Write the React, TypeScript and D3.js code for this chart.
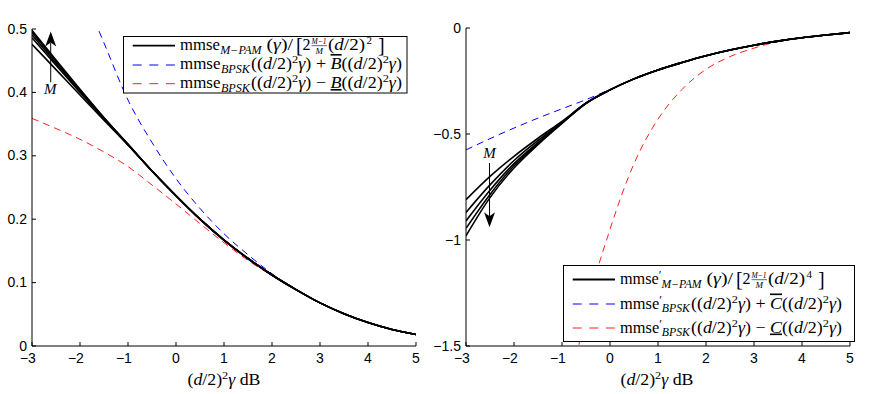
import React from 'react';
import * as d3 from 'd3';

// ---------- data ----------
const xGrid = [-3, -2.5, -2, -1.5, -1, -0.5, 0, 0.5, 1, 1.5, 2, 2.5, 3, 3.5, 4, 4.5, 5];

// left panel: normalized M-PAM mmse for several M (bundle)
const mmseM4 = [0.476, 0.436, 0.396, 0.356, 0.317, 0.276, 0.237, 0.200, 0.167, 0.138, 0.112, 0.089, 0.068, 0.051, 0.037, 0.026, 0.018];
const mmseM8 = [0.486, 0.443, 0.400, 0.358, 0.317, 0.276, 0.237, 0.200, 0.167, 0.138, 0.112, 0.089, 0.068, 0.051, 0.037, 0.026, 0.018];
const mmseM16 = [0.491, 0.446, 0.402, 0.359, 0.318, 0.276, 0.237, 0.200, 0.167, 0.138, 0.112, 0.089, 0.068, 0.051, 0.037, 0.026, 0.018];
const mmseM32 = [0.495, 0.449, 0.404, 0.360, 0.318, 0.276, 0.237, 0.200, 0.167, 0.138, 0.112, 0.089, 0.068, 0.051, 0.037, 0.026, 0.018];
const mmseM64 = [0.498, 0.451, 0.405, 0.360, 0.318, 0.276, 0.237, 0.200, 0.167, 0.138, 0.112, 0.089, 0.068, 0.051, 0.037, 0.026, 0.018];

const upperLX = [-1.7, -1.5, -1, -0.5, 0, 0.5, 1, 1.5, 2, 2.4];
const upperLV = [0.514, 0.478, 0.388, 0.321, 0.264, 0.217, 0.177, 0.144, 0.114, 0.093];
const lowerLX = [-3, -2.5, -2, -1.5, -1, -0.5, 0, 0.5, 1, 1.5, 2, 2.2];
const lowerLV = [0.359, 0.343, 0.326, 0.306, 0.283, 0.254, 0.224, 0.193, 0.163, 0.135, 0.111, 0.102];

// right panel: normalized derivative
const dM4 = [-0.81, -0.70, -0.605, -0.52, -0.44, -0.355, -0.292, -0.240, -0.198, -0.163, -0.131, -0.104, -0.081, -0.062, -0.046, -0.033, -0.022];
const dM8 = [-0.87, -0.74, -0.625, -0.53, -0.445, -0.355, -0.292, -0.240, -0.198, -0.163, -0.131, -0.104, -0.081, -0.062, -0.046, -0.033, -0.022];
const dM16 = [-0.91, -0.765, -0.64, -0.54, -0.447, -0.355, -0.292, -0.240, -0.198, -0.163, -0.131, -0.104, -0.081, -0.062, -0.046, -0.033, -0.022];
const dM32 = [-0.945, -0.785, -0.65, -0.545, -0.449, -0.355, -0.292, -0.240, -0.198, -0.163, -0.131, -0.104, -0.081, -0.062, -0.046, -0.033, -0.022];
const dM64 = [-0.98, -0.80, -0.66, -0.55, -0.45, -0.355, -0.292, -0.240, -0.198, -0.163, -0.131, -0.104, -0.081, -0.062, -0.046, -0.033, -0.022];

const upperRX = [-3, -2.5, -2, -1.5, -1, -0.5, 0, 0.3];
const upperRV = [-0.575, -0.522, -0.472, -0.425, -0.381, -0.338, -0.29, -0.262];
const lowerRX = [-0.7, -0.5, 0, 0.5, 1, 1.5, 2, 2.5, 3, 3.5, 4];
const lowerRV = [-1.55, -1.34, -0.95, -0.64, -0.43, -0.29, -0.195, -0.135, -0.095, -0.064, -0.046];

const xTicks = [-3, -2, -1, 0, 1, 2, 3, 4, 5];
const yTicksL = [0, 0.1, 0.2, 0.3, 0.4, 0.5];
const yTicksR = [-1.5, -1, -0.5, 0];

const arrowL = { x: -2.61, from: 0.416, to: 0.496, label: 0.398 };
const arrowR = { x: -2.51, from: -0.637, to: -0.94, label: -0.613 };

// ---------- styles ----------
const serif = "'Liberation Serif','Times New Roman',serif";
const sans = "'Liberation Sans',Arial,Helvetica,sans-serif";
const BLUE = '#0000ff';
const RED = '#ff2020';
const fmt = (v: number) => {
  const s = String(Math.abs(v));
  return v < 0 ? '\u2212' + s : s;
};

function Arrow({ x, y1, y2 }: { x: number; y1: number; y2: number }) {
  const s = y2 < y1 ? 1 : -1; // 1: tip upward
  const hl = 15, hw = 5.5, notch = 11;
  const d = `M${x},${y2} L${x - hw},${y2 + s * hl} L${x},${y2 + s * notch} L${x + hw},${y2 + s * hl} Z`;
  return (
    <g>
      <line x1={x} y1={y1} x2={x} y2={y2 + s * notch} stroke="#000" strokeWidth={1} />
      <path d={d} fill="#000" />
    </g>
  );
}

// "mmse" with subscript (and optional prime) as one text element
function Mmse({ x, by, label, w, prime }: { x: number; by: number; label: string; w: number; prime: boolean }) {
  return (
    <text x={x} y={by} fontSize={16} textLength={w} lengthAdjust="spacingAndGlyphs">
      mmse
      {prime ? (
        <>
          <tspan fontSize={12} dy={-5}>{'\u2032'}</tspan>
          <tspan dy={8.5} fontSize={11.5} fontStyle="italic">{label}</tspan>
          <tspan dy={-3.5} fontSize={1}>{' '}</tspan>
        </>
      ) : (
        <>
          <tspan dx={0.5} dy={3.5} fontSize={11.5} fontStyle="italic">{label}</tspan>
          <tspan dy={-3.5} fontSize={1}>{' '}</tspan>
        </>
      )}
    </text>
  );
}

function Row1({ ox, by, exp, prime }: { ox: number; by: number; exp: string; prime: boolean }) {
  return (
    <g fontFamily={serif} fill="#000">
      <Mmse x={ox + 180} by={by} label={'M\u2212PAM'} w={81.5} prime={prime} />
      <text x={ox + 266.5} y={by} fontSize={16} textLength={26.5} lengthAdjust="spacingAndGlyphs">(<tspan fontStyle="italic">γ</tspan>)/</text>
      <text x={ox + 296} y={by + 2} fontSize={20}>[</text>
      <text x={ox + 302.5} y={by} fontSize={16}>2</text>
      <text x={ox + 311.5} y={by - 6} fontSize={9} fontStyle="italic" textLength={15} lengthAdjust="spacingAndGlyphs">M{'\u2212'}1</text>
      <line x1={ox + 311.5} x2={ox + 327} y1={by - 4.3} y2={by - 4.3} stroke="#000" strokeWidth={0.6} />
      <text x={ox + 319.3} y={by + 3.5} fontSize={9} fontStyle="italic" textAnchor="middle">M</text>
      <text x={ox + 328} y={by} fontSize={16} textLength={37} lengthAdjust="spacingAndGlyphs">(<tspan fontStyle="italic">d</tspan>/2)</text>
      <text x={ox + 366.5} y={by - 6} fontSize={11}>{exp}</text>
      <text x={ox + 378} y={by + 2} fontSize={20}>]</text>
    </g>
  );
}

function RowN({ ox, by, op, letter, dec, prime }: { ox: number; by: number; op: string; letter: string; dec: string; prime: boolean }) {
  return (
    <g fontFamily={serif} fill="#000">
      <Mmse x={ox + 180} by={by} label="BPSK" w={70} prime={prime} />
      <text x={ox + 251} y={by} fontSize={16} textLength={151} lengthAdjust="spacingAndGlyphs">
        ((<tspan fontStyle="italic">d</tspan>/2)<tspan fontSize={11} dy={-6}>2</tspan><tspan fontStyle="italic" dy={6}>γ</tspan>) {op} <tspan fontStyle="italic" textDecoration={dec}>{letter}</tspan>((<tspan fontStyle="italic">d</tspan>/2)<tspan fontSize={11} dy={-6}>2</tspan><tspan fontStyle="italic" dy={6}>γ</tspan>)
      </text>
    </g>
  );
}

export default function App() {
  const xL = d3.scaleLinear().domain([-3, 5]).range([32, 416]);
  const yL = d3.scaleLinear().domain([0, 0.5]).range([346, 29]);
  const xR = d3.scaleLinear().domain([-3, 5]).range([466, 850]);
  const yR = d3.scaleLinear().domain([-1.5, 0]).range([346, 28]);

  const mk = (xs: number[], vs: number[], sx: any, sy: any) =>
    d3
      .line<number>()
      .x((_, i) => sx(xs[i]))
      .y((v) => sy(v))
      .curve(d3.curveMonotoneX)(vs) as string;

  const leftBundle = [mmseM4, mmseM8, mmseM16, mmseM32, mmseM64];
  const rightBundle = [dM4, dM8, dM16, dM32, dM64];

  const axis = (sx: any, sy: any, yt: number[], yDom: [number, number]) => {
    const x0 = sx(-3), x1 = sx(5), yb = sy(yDom[0]), yt0 = sy(yDom[1]);
    return (
      <g>
        <path d={`M${x0},${yt0} V${yb} H${x1}`} fill="none" stroke="#000" strokeWidth={1} />
        {xTicks.map((t) => (
          <g key={'x' + t}>
            <line x1={sx(t)} x2={sx(t)} y1={yb} y2={yb - 4} stroke="#000" strokeWidth={1} />
            <text x={sx(t) + 3.9} y={363} textAnchor="end" fontFamily={sans} fontSize={14}>{fmt(t)}</text>
          </g>
        ))}
        {yt.map((t) => (
          <g key={'y' + t}>
            <line x1={x0} x2={x0 + 4} y1={sy(t)} y2={sy(t)} stroke="#000" strokeWidth={1} />
            <text x={x0 - 5} y={sy(t) + 4.5} textAnchor="end" fontFamily={sans} fontSize={14}>{fmt(t)}</text>
          </g>
        ))}
      </g>
    );
  };

  const xlabel = (cx: number) => (
    <text x={cx - 36.5} y={385} fontFamily={serif} fontSize={16} textLength={73} lengthAdjust="spacingAndGlyphs">
      (<tspan fontStyle="italic">d</tspan>/2)<tspan fontSize={11} dy={-6}>2</tspan><tspan fontStyle="italic" dy={6}>γ</tspan> dB
    </text>
  );

  return (
    <svg width={872} height={394} style={{ position: 'absolute', left: 0, top: 0, background: '#fff' }}>
      <defs>
        <clipPath id="clipL">
          <rect x={32} y={27} width={384} height={319} />
        </clipPath>
        <clipPath id="clipR">
          <rect x={466} y={28} width={384} height={318} />
        </clipPath>
      </defs>
      <rect x={0} y={0} width={872} height={394} fill="#fff" />

      {/* ----- left panel ----- */}
      <g clipPath="url(#clipL)" fill="none">
        <path d={mk(lowerLX, lowerLV, xL, yL)} stroke={RED} strokeWidth={1} strokeDasharray="7,5" />
        <path d={mk(upperLX, upperLV, xL, yL)} stroke={BLUE} strokeWidth={1} strokeDasharray="7,5" />
        {leftBundle.map((vs, i) => (
          <path key={i} d={mk(xGrid, vs, xL, yL)} stroke="#000" strokeWidth={1.6} />
        ))}
      </g>
      {axis(xL, yL, yTicksL, [0, 0.5])}
      {xlabel(224)}
      <Arrow x={xL(arrowL.x)} y1={yL(arrowL.from)} y2={yL(arrowL.to)} />
      <text x={xL(arrowL.x) - 0.5} y={yL(arrowL.label)} textAnchor="middle" fontFamily={serif} fontStyle="italic" fontSize={15}>M</text>

      <g>
        <rect x={123.5} y={36.5} width={283.5} height={56.5} fill="#fff" stroke="#000" strokeWidth={1} />
        <line x1={132.7} x2={175} y1={45.7} y2={45.7} stroke="#000" strokeWidth={1.8} />
        <line x1={132.7} x2={175} y1={65} y2={65} stroke={BLUE} strokeWidth={1} strokeDasharray="9,7.6" />
        <line x1={132.7} x2={175} y1={83.7} y2={83.7} stroke={RED} strokeWidth={1} strokeDasharray="9,7.6" />
        <Row1 ox={0} by={50} exp="2" prime={false} />
        <RowN ox={0} by={69} op="+" letter="B" dec="overline" prime={false} />
        <RowN ox={0} by={88} op={'\u2212'} letter="B" dec="underline" prime={false} />
      </g>

      {/* ----- right panel ----- */}
      <g clipPath="url(#clipR)" fill="none">
        <path d={mk(lowerRX, lowerRV, xR, yR)} stroke={RED} strokeWidth={1} strokeDasharray="7,5" />
        <path d={mk(upperRX, upperRV, xR, yR)} stroke={BLUE} strokeWidth={1} strokeDasharray="7,5" />
        {rightBundle.map((vs, i) => (
          <path key={i} d={mk(xGrid, vs, xR, yR)} stroke="#000" strokeWidth={1.6} />
        ))}
      </g>
      {axis(xR, yR, yTicksR, [-1.5, 0])}
      {xlabel(657)}
      <Arrow x={xR(arrowR.x)} y1={yR(arrowR.from)} y2={yR(arrowR.to)} />
      <text x={xR(arrowR.x)} y={yR(arrowR.label)} textAnchor="middle" fontFamily={serif} fontStyle="italic" fontSize={15}>M</text>

      <g>
        <rect x={563.5} y={265.5} width={291} height={76} fill="#fff" stroke="#000" strokeWidth={1} />
        <line x1={572.7} x2={615} y1={279.5} y2={279.5} stroke="#000" strokeWidth={1.8} />
        <line x1={572.7} x2={615} y1={304} y2={304} stroke={BLUE} strokeWidth={1} strokeDasharray="9,7.6" />
        <line x1={572.7} x2={615} y1={328} y2={328} stroke={RED} strokeWidth={1} strokeDasharray="9,7.6" />
        <Row1 ox={440} by={284} exp="4" prime={true} />
        <RowN ox={440} by={308.5} op="+" letter="C" dec="overline" prime={true} />
        <RowN ox={440} by={332.5} op={'\u2212'} letter="C" dec="underline" prime={true} />
      </g>
    </svg>
  );
}
